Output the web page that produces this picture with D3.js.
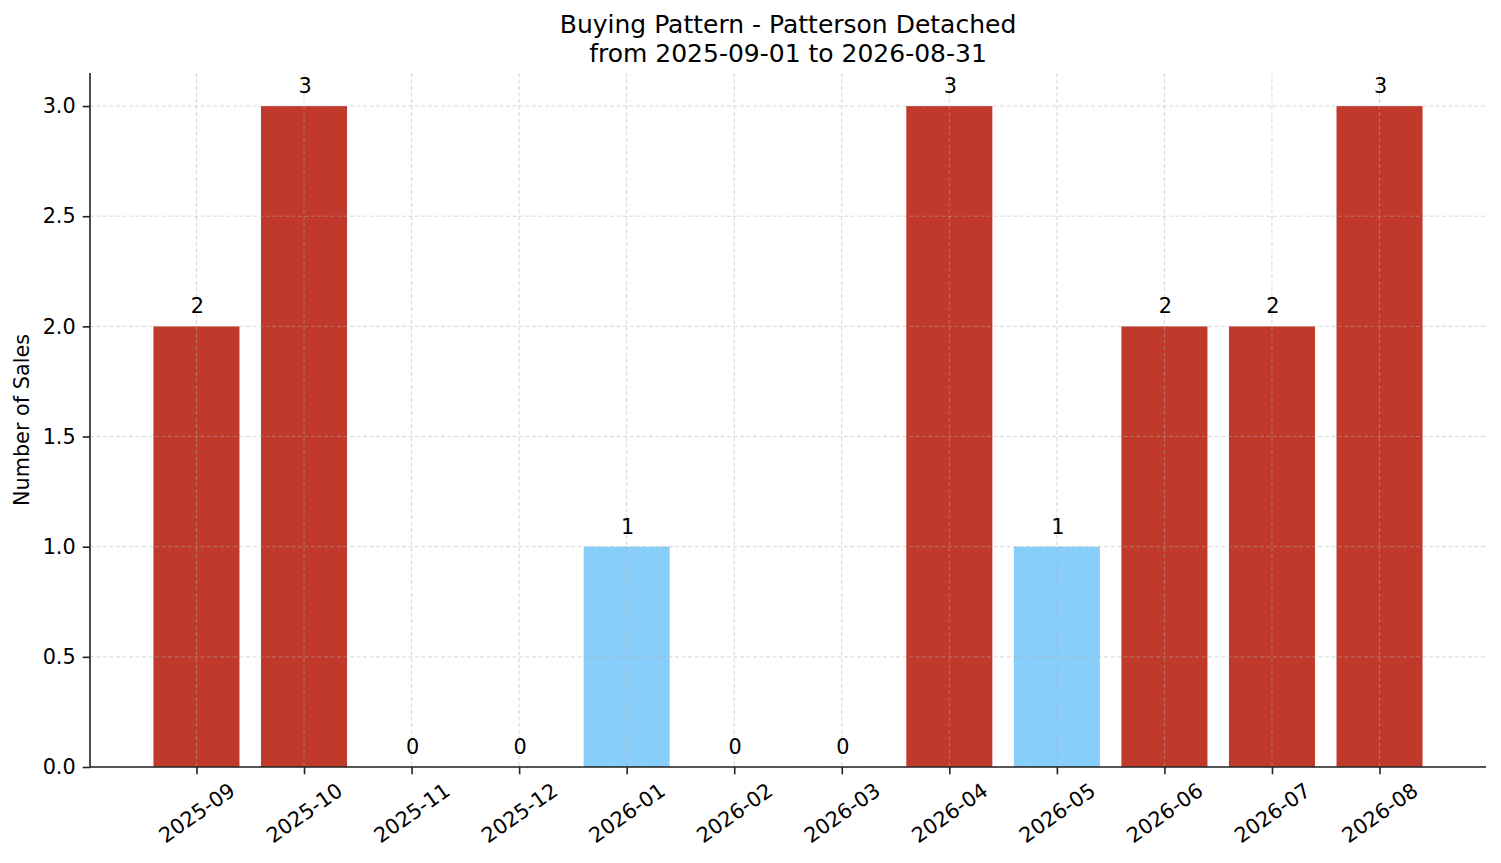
<!DOCTYPE html>
<html>
<head>
<meta charset="utf-8">
<script src="https://d3js.org/d3.v7.min.js"></script>
<style>
  body { margin: 0; background: #fff; }
  svg { display: block; font-family: "DejaVu Sans", sans-serif; }
</style>
</head>
<body>
<svg id="chart" width="1501" height="863"></svg>
<script>
// monthly sales counts
const months = ['2025-09', '2025-10', '2025-11', '2025-12', '2026-01', '2026-02',
                '2026-03', '2026-04', '2026-05', '2026-06', '2026-07', '2026-08'];
const sales = [2, 3, 0, 0, 1, 0, 0, 3, 1, 2, 2, 3];
const yTicks = [0, 0.5, 1, 1.5, 2, 2.5, 3];

const titleLines = ['Buying Pattern - Patterson Detached', 'from 2025-09-01 to 2026-08-31'];

const svg = d3.select('#chart');
const plot = { left: 90, right: 1486, top: 73, bottom: 767 };

// matplotlib-like x margins: bars span -0.4..n-0.6, plus 5% padding
const n = months.length;
const span = (n - 1) + 0.8;
const x = d3.scaleLinear()
  .domain([-0.4 - span * 0.05, n - 1 + 0.4 + span * 0.05])
  .range([plot.left, plot.right]);
const y = d3.scaleLinear().domain([0, 3.15]).range([plot.bottom, plot.top]);

const mean = d3.mean(sales);
const barColor = v => v < mean ? '#87cefa' : '#c0392b';

// bars
svg.append('g').selectAll('rect').data(sales).join('rect')
  .attr('x', (d, i) => x(i - 0.4))
  .attr('width', (d, i) => x(i + 0.4) - x(i - 0.4))
  .attr('y', d => y(d))
  .attr('height', d => y(0) - y(d))
  .attr('fill', barColor);

// grid on top of bars
const grid = svg.append('g')
  .attr('stroke', '#b0b0b0')
  .attr('stroke-opacity', 0.5)
  .attr('stroke-width', 1)
  .attr('stroke-dasharray', '4,2.5');
grid.selectAll('.gy').data(yTicks).join('line').attr('class', 'gy')
  .attr('x1', plot.left).attr('x2', plot.right)
  .attr('y1', d => y(d)).attr('y2', d => y(d));
grid.selectAll('.gx').data(months).join('line').attr('class', 'gx')
  .attr('x1', (d, i) => x(i)).attr('x2', (d, i) => x(i))
  .attr('y1', plot.top).attr('y2', plot.bottom);

// value labels
svg.append('g').selectAll('text').data(sales).join('text')
  .attr('x', (d, i) => x(i) + 1)
  .attr('y', d => y(d) - 13)
  .attr('text-anchor', 'middle')
  .attr('font-size', 20.8)
  .attr('fill', '#000')
  .text(d => d);

// y axis
const yAxis = d3.axisLeft(y).tickValues(yTicks).tickFormat(d3.format('.1f'))
  .tickSize(7.3).tickPadding(7);
const ya = svg.append('g').attr('transform', `translate(${plot.left},0)`).call(yAxis);
ya.select('.domain').attr('d', `M0,${plot.top}V${plot.bottom}`);

// x axis
const xAxis = d3.axisBottom(x).tickValues(d3.range(n)).tickFormat(i => months[i])
  .tickSize(7.3).tickPadding(7);
const xa = svg.append('g').attr('transform', `translate(0,${plot.bottom})`).call(xAxis);
xa.select('.domain').attr('d', `M${plot.left},0H${plot.right}`);
xa.selectAll('.tick text')
  .attr('y', 0).attr('dy', null)
  .attr('text-anchor', 'middle')
  .attr('dominant-baseline', 'central')
  .attr('transform', 'translate(0,46) rotate(-35)');

[ya, xa].forEach(a => {
  a.attr('font-family', null).attr('font-size', 20.8);
  a.select('.domain').attr('stroke', '#222').attr('stroke-width', 1.6);
  a.selectAll('.tick line').attr('stroke', '#222').attr('stroke-width', 1.6);
  a.selectAll('.tick text').attr('fill', '#000');
});

// y label
svg.append('text')
  .attr('transform', `translate(29,${(plot.top + plot.bottom) / 2}) rotate(-90)`)
  .attr('text-anchor', 'middle')
  .attr('font-size', 20.8)
  .text('Number of Sales');

// title
svg.append('g').selectAll('text').data(titleLines).join('text')
  .attr('x', (plot.left + plot.right) / 2)
  .attr('y', (d, i) => 33 + i * 28.5)
  .attr('text-anchor', 'middle')
  .attr('font-size', 25)
  .text(d => d);
</script>
</body>
</html>
